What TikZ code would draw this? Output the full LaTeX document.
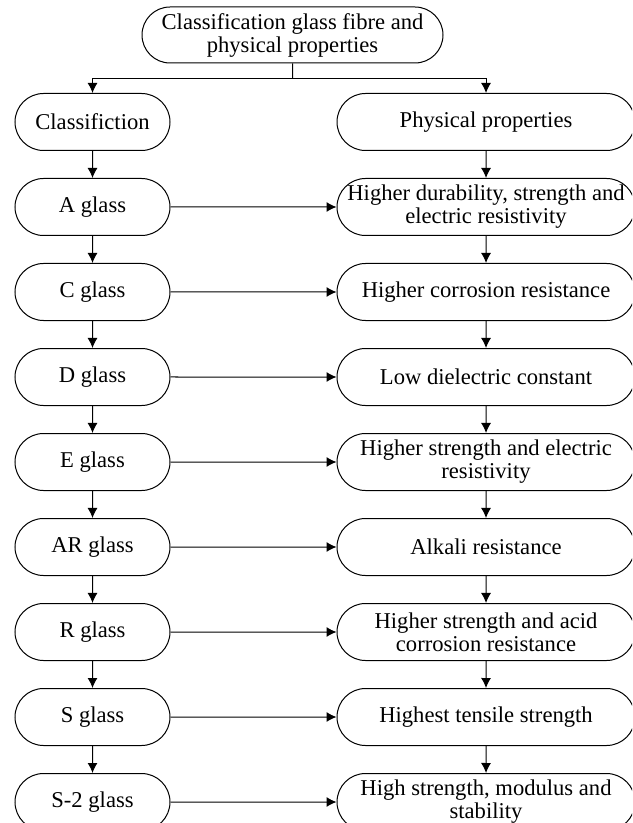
\documentclass[tikz,border=0pt]{standalone}
\usepackage{fontspec}
\setmainfont{Liberation Serif}
\usetikzlibrary{positioning,shapes.misc,arrows.meta}

\begin{document}
\begin{tikzpicture}[x=0.5pt,y=-0.5pt,font=\fontsize{11.3}{11.5}\selectfont,
				term/.style={rounded rectangle,draw,line width=0.5pt,align=center,inner sep=1pt,minimum height=28.5pt},
				kind/.style={term,minimum width=79.5pt},
				prop/.style={term,minimum width=151pt},
				node distance=13.5pt and 83pt,
				>={Latex[length=5pt,width=5pt]}]
				\path[use as bounding box,clip] (0,0) rectangle (632,823);
				\node (ROOT) [term,minimum width=152.5pt,minimum height=28pt] at (292.5,35) {Classification glass fibre and\\physical properties};
				\node (CLS)  [kind] at (92.5,122)  {Classifiction};
				\node (A)    [kind,below=of CLS]   {A glass};
				\node (C)    [kind,below=of A]     {C glass};
				\node (D)    [kind,below=of C]     {D glass};
				\node (E)    [kind,below=of D]     {E glass};
				\node (AR)   [kind,below=of E]     {AR glass};
				\node (R)    [kind,below=of AR]    {R glass};
				\node (S)    [kind,below=of R]     {S glass};
				\node (S2)   [kind,below=of S]     {S-2 glass};
				\node (PCLS) [prop,right=of CLS]   {Physical properties};
				\node (PA)   [prop,right=of A]     {Higher durability, strength and\\electric resistivity};
				\node (PC)   [prop,right=of C]     {Higher corrosion resistance};
				\node (PD)   [prop,right=of D]     {Low dielectric constant};
				\node (PE)   [prop,right=of E]     {Higher strength and electric\\resistivity};
				\node (PAR)  [prop,right=of AR]    {Alkali resistance};
				\node (PR)   [prop,right=of R]     {Higher strength and acid\\corrosion resistance};
				\node (PS)   [prop,right=of S]     {Highest tensile strength};
				\node (PS2)  [prop,right=of S2]    {High strength, modulus and\\stability};
				\coordinate (SPLIT) at ([yshift=-7.5pt]ROOT.south);

				\draw[line width=0.5pt] (ROOT) -- (SPLIT);
				\draw[->,line width=0.5pt] (SPLIT) -| (CLS);
				\draw[->,line width=0.5pt] (SPLIT) -| (PCLS);
				\foreach \u/\v in {CLS/A,A/C,C/D,D/E,E/AR,AR/R,R/S,S/S2}{
					\draw[->,line width=0.5pt] (\u) -- (\v);
					\draw[->,line width=0.5pt] (P\u) -- (P\v);}
				\foreach \u in {A,C,D,E,AR,R,S,S2}
					\draw[->,line width=0.5pt] (\u) -- (P\u);
			\end{tikzpicture}
\end{document}
